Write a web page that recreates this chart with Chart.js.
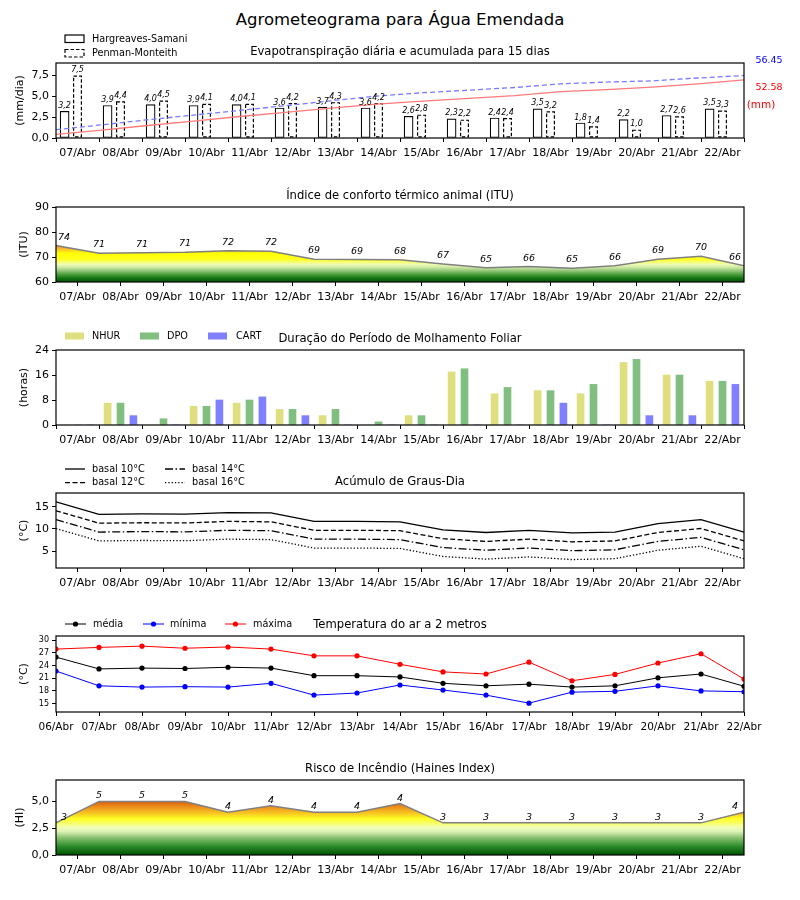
<!DOCTYPE html>
<html>
<head>
<meta charset="utf-8">
<script src="https://cdn.jsdelivr.net/npm/chart.js@4.4.0/dist/chart.umd.min.js"></script>
<style>
  body { margin: 0; background: #fff; width: 800px; height: 900px; position: relative; overflow: hidden; font-family: "DejaVu Sans", sans-serif; }
  #mainTitle { position: absolute; top: 10px; left: 0; width: 800px; text-align: center; font-size: 16.5px; color: #000; }
  canvas { position: absolute; left: 0; }
</style>
</head>
<body>
<div id="mainTitle">Agrometeograma para Água Emendada</div>
<canvas id="etChart"></canvas>
<canvas id="ituChart"></canvas>
<canvas id="molhChart"></canvas>
<canvas id="gdChart"></canvas>
<canvas id="tempChart"></canvas>
<canvas id="hainesChart"></canvas>
<script>
// ---- data ----
const dayLabels = ['07/Abr', '08/Abr', '09/Abr', '10/Abr', '11/Abr', '12/Abr', '13/Abr', '14/Abr',
                   '15/Abr', '16/Abr', '17/Abr', '18/Abr', '19/Abr', '20/Abr', '21/Abr', '22/Abr'];
const tempLabels = ['06/Abr', '07/Abr', '08/Abr', '09/Abr', '10/Abr', '11/Abr', '12/Abr', '13/Abr', '14/Abr',
                    '15/Abr', '16/Abr', '17/Abr', '18/Abr', '19/Abr', '20/Abr', '21/Abr', '22/Abr'];

// Evapotranspiração (mm/dia) e acumulada (mm)
const etHargreaves = [3.2, 3.9, 4.0, 3.9, 4.0, 3.6, 3.7, 3.6, 2.6, 2.3, 2.4, 3.5, 1.8, 2.2, 2.7, 3.5];
const etPenman     = [7.5, 4.4, 4.5, 4.1, 4.1, 4.2, 4.3, 4.2, 2.8, 2.2, 2.4, 3.2, 1.4, 1.0, 2.6, 3.3];
const etHargreavesAcum = [3.2, 7.2, 11.3, 15.3, 19.4, 23.1, 26.9, 30.6, 33.3, 35.7, 38.2, 41.8, 43.7, 46.0, 48.9, 52.58];
const etPenmanAcum     = [7.5, 11.9, 16.5, 20.7, 24.9, 29.2, 33.6, 37.9, 40.9, 43.2, 45.6, 48.9, 50.5, 51.6, 54.2, 56.45];

// ITU
const ituValues = [74.6, 71.5, 71.7, 71.9, 72.5, 72.3, 69.1, 69.0, 68.9, 67.2, 65.7, 66.2, 65.5, 66.5, 69.1, 70.3, 66.5];

// Molhamento foliar (horas)
const nhurHours = [0, 7, 0, 6, 7, 5, 3, 0, 3, 17, 10, 11, 10, 20, 16, 14];
const dpoHours  = [0, 7, 2, 6, 8, 5, 5, 1, 3, 18, 12, 11, 13, 21, 16, 14];
const cartHours = [0, 3, 0, 8, 9, 3, 0, 0, 0, 0, 0, 7, 0, 3, 3, 13];

// Graus-dia (°C)
const grausDia10 = [16.1, 13.3, 13.4, 13.35, 13.7, 13.6, 11.7, 11.7, 11.6, 9.8, 9.2, 9.7, 9.1, 9.3, 11.2, 12.1, 9.3];
const grausDia12 = [14.1, 11.3, 11.4, 11.35, 11.7, 11.6, 9.7, 9.7, 9.6, 7.8, 7.2, 7.7, 7.1, 7.3, 9.2, 10.1, 7.3];
const grausDia14 = [12.1, 9.3, 9.4, 9.35, 9.7, 9.6, 7.7, 7.7, 7.6, 5.8, 5.2, 5.7, 5.1, 5.3, 7.2, 8.1, 5.3];
const grausDia16 = [10.1, 7.3, 7.4, 7.35, 7.7, 7.6, 5.7, 5.7, 5.6, 3.8, 3.2, 3.7, 3.1, 3.3, 5.2, 6.1, 3.3];

// Temperatura do ar (°C)
const tempMedia  = [26.0, 23.2, 23.4, 23.3, 23.6, 23.4, 21.6, 21.6, 21.3, 19.8, 19.2, 19.6, 18.9, 19.2, 21.1, 22.0, 19.1];
const tempMinima = [22.7, 19.2, 18.9, 19.0, 18.9, 19.8, 17.0, 17.5, 19.4, 18.2, 17.0, 15.1, 17.7, 17.9, 19.2, 18.0, 17.8];
const tempMaxima = [27.9, 28.3, 28.6, 28.1, 28.4, 27.9, 26.3, 26.3, 24.3, 22.5, 22.0, 24.8, 20.4, 21.9, 24.6, 26.8, 20.8];

// Haines index
const hainesValues = [3.0, 5.0, 5.0, 5.0, 4.0, 4.6, 4.0, 4.0, 4.8, 3.0, 3.0, 3.0, 3.0, 3.0, 3.0, 3.0, 4.0];

// y tick values
const etTicks = [0, 2.5, 5, 7.5];
const ituTicks = [60, 70, 80, 90];
const molhTicks = [0, 8, 16, 24];
const gdTicks = [5, 10, 15];
const tempTicks = [15, 18, 21, 24, 27, 30];
const hainesTicks = [0, 2.5, 5];

// ---- layout helpers ----
Chart.defaults.font.family = "'DejaVu Sans', sans-serif";
Chart.defaults.color = '#000';

const PAD_TOP = 48;
const AXIS_H = 32;
const AXIS_W = 56;
const RIGHT_W = 56;
const FONT = "'DejaVu Sans', sans-serif";
const LEGEND_FONT = '9.7px ' + FONT;

const dayTicks = dayLabels.map((_, i) => i);
const tempTickPos = tempLabels.map((_, i) => i);
const edgeX = tempLabels.map((_, i) => i - 0.5);   // day boundaries, -0.5 .. 15.5

function fmtComma(v, d) {
    return v.toFixed(d).replace('.', ',');
}

function drawText(c, str, x, y, font, color, align, baseline) {
    c.save();
    c.font = font;
    c.fillStyle = color || '#000';
    c.textAlign = align || 'left';
    c.textBaseline = baseline || 'middle';
    c.fillText(str, x, y);
    c.restore();
}

function placeCanvas(id, plotTop, plotBottom) {
    const cv = document.getElementById(id);
    cv.width = 800;
    cv.height = plotBottom - plotTop + PAD_TOP + AXIS_H;
    cv.style.top = (plotTop - PAD_TOP) + 'px';
    return cv;
}

function xAxis(min, max, ticks, labels, fontSize) {
    return {
        type: 'linear', min: min, max: max, offset: false,
        afterBuildTicks: s => { s.ticks = ticks.map(v => ({ value: v })); },
        afterFit: s => { s.height = AXIS_H; },
        ticks: {
            autoSkip: false, maxRotation: 0, padding: 5,
            font: { size: fontSize },
            callback: (v, i) => labels[i]
        },
        grid: { drawOnChartArea: false, drawTicks: true, tickLength: 4, color: '#000' },
        border: { display: false }
    };
}

function yAxis(min, max, ticks, fmt, title, titlePad, fontSize) {
    return {
        type: 'linear', min: min, max: max, position: 'left',
        afterBuildTicks: s => { s.ticks = ticks.map(v => ({ value: v })); },
        afterFit: s => { s.width = AXIS_W; },
        ticks: { padding: 3, font: { size: fontSize }, callback: fmt },
        grid: { drawOnChartArea: false, drawTicks: true, tickLength: 4, color: '#000' },
        border: { display: false },
        title: { display: true, text: title, font: { size: 11 }, padding: { top: titlePad, bottom: 0 } }
    };
}

// empty right-hand box so the plot keeps its right margin and the title stays centred on the page
const rightSpacer = {
    type: 'linear', position: 'right', min: 0, max: 1,
    afterFit: s => { s.width = RIGHT_W; },
    ticks: { display: false },
    grid: { display: false },
    border: { display: false }
};

function baseOptions(title, x, y) {
    return {
        responsive: false,
        animation: false,
        events: [],
        layout: { padding: 0 },
        plugins: {
            legend: { display: false },
            tooltip: { enabled: false },
            title: {
                display: true, text: title, color: '#000',
                font: { size: 11.6, weight: 'normal' },
                padding: { top: PAD_TOP - 11.6 * 1.2 - 4.3, bottom: 4.3 }
            }
        },
        scales: { x: x, y: y, yR: rightSpacer }
    };
}

// box round the plot area, as matplotlib axes
const frameBox = {
    id: 'frameBox',
    afterDraw(chart) {
        const a = chart.chartArea;
        const c = chart.ctx;
        c.save();
        c.strokeStyle = '#000';
        c.lineWidth = 1.2;
        c.strokeRect(a.left, a.top, a.right - a.left, a.bottom - a.top);
        c.restore();
    }
};

// colour-map fill under a line, stops given in data units
function bandFill(stops) {
    return function(context) {
        const chart = context.chart;
        const a = chart.chartArea;
        if (!a) return 'rgba(0,0,0,0)';
        const ys = chart.scales.y;
        const v0 = stops[0][0], v1 = stops[stops.length - 1][0];
        const g = chart.ctx.createLinearGradient(0, ys.getPixelForValue(v0), 0, ys.getPixelForValue(v1));
        stops.forEach(s => g.addColorStop((s[0] - v0) / (v1 - v0), s[1]));
        return g;
    };
}

function pointLabels(offsetY) {
    return {
        id: 'pointLabels',
        afterDraw(chart) {
            const a = chart.chartArea;
            const meta = chart.getDatasetMeta(0);
            const vals = chart.data.datasets[0].data;
            meta.data.forEach((el, i) => {
                const x = Math.min(Math.max(el.x, a.left + 8), a.right - 9);
                drawText(chart.ctx, String(Math.trunc(vals[i].y)), x, el.y - offsetY,
                    'italic 9.5px ' + FONT, '#000', 'center', 'alphabetic');
            });
        }
    };
}

// ---- 1. Evapotranspiração ----
placeCanvas('etChart', 63, 138);
const etOpts = baseOptions('Evapotranspiração diária e acumulada para 15 dias',
    xAxis(-0.5, 15.5, dayTicks, dayLabels, 11),
    yAxis(0, 9, etTicks, v => fmtComma(v, 1), '(mm/dia)', 13.4, 11));
etOpts.scales.y2 = { type: 'linear', display: false, min: 0, max: 67.74 };

new Chart(document.getElementById('etChart'), {
    type: 'bar',
    data: {
        datasets: [
            {
                label: 'Hargreaves-Samani', order: 1, grouped: false,
                data: etHargreaves.map((v, i) => ({ x: i - 0.3, y: v })),
                backgroundColor: '#fff', borderColor: '#000', borderWidth: 1.2,
                borderSkipped: false, barThickness: 9
            },
            {
                label: 'Penman-Monteith', order: 1, grouped: false,
                data: etPenman.map((v, i) => ({ x: i, y: v })),
                backgroundColor: '#fff', borderWidth: 0, barThickness: 9
            },
            {
                type: 'line', label: 'HS acumulada', order: 0, yAxisID: 'y2',
                data: etHargreavesAcum.map((v, i) => ({ x: -0.5 + i * 16 / 15, y: v })),
                borderColor: '#ff7a7a', borderWidth: 1.3, pointRadius: 0, tension: 0
            },
            {
                type: 'line', label: 'PM acumulada', order: 0, yAxisID: 'y2',
                data: etPenmanAcum.map((v, i) => ({ x: -0.5 + i * 16 / 15, y: v })),
                borderColor: '#7a7aff', borderWidth: 1.3, borderDash: [5, 3], pointRadius: 0, tension: 0
            }
        ]
    },
    options: etOpts,
    plugins: [frameBox, {
        id: 'etExtras',
        afterDatasetDraw(chart, args) {
            if (args.index !== 1) return;
            const c = chart.ctx;
            c.save();
            c.strokeStyle = '#000';
            c.lineWidth = 1.2;
            c.setLineDash([3.5, 2]);
            args.meta.data.forEach(el => {
                c.strokeRect(el.x - el.width / 2 + 0.6, el.y + 0.6, el.width - 1.2, el.base - el.y - 1.2);
            });
            c.restore();
        },
        afterDraw(chart) {
            const c = chart.ctx;
            const a = chart.chartArea;
            [[0, etHargreaves], [1, etPenman]].forEach(([di, vals]) => {
                chart.getDatasetMeta(di).data.forEach((el, i) => {
                    drawText(c, fmtComma(vals[i], 1), el.x, el.y - 1.5, 'italic 8px ' + FONT, '#000', 'center', 'bottom');
                });
            });
            // legend
            const r1 = a.top - 24, r2 = a.top - 9.5;
            c.save();
            c.fillStyle = '#fff';
            c.strokeStyle = '#000';
            c.lineWidth = 1.2;
            c.fillRect(65, r1 - 4, 19, 7.5);
            c.strokeRect(65, r1 - 4, 19, 7.5);
            c.setLineDash([3.5, 2]);
            c.fillRect(65, r2 - 4, 19, 7.5);
            c.strokeRect(65, r2 - 4, 19, 7.5);
            c.restore();
            drawText(c, 'Hargreaves-Samani', 92, r1, LEGEND_FONT);
            drawText(c, 'Penman-Monteith', 92, r2, LEGEND_FONT);
            // accumulated totals
            const last = etPenmanAcum.length - 1;
            drawText(c, etPenmanAcum[last].toFixed(2), 769, a.top - 2, '9.5px ' + FONT, '#0000ff', 'center');
            drawText(c, etHargreavesAcum[last].toFixed(2), 769, a.top + 24.5, '9.5px ' + FONT, '#ff0000', 'center');
            drawText(c, '(mm)', 761, a.top + 42, '10.5px ' + FONT, '#ff0000', 'center');
        }
    }]
});

// ---- 2. ITU ----
placeCanvas('ituChart', 207, 282);
new Chart(document.getElementById('ituChart'), {
    type: 'line',
    data: {
        datasets: [{
            label: 'ITU',
            data: ituValues.map((v, i) => ({ x: edgeX[i], y: v })),
            borderColor: '#808080', borderWidth: 1.5, pointRadius: 0, tension: 0,
            fill: 'start',
            backgroundColor: bandFill([
                [60, '#005200'], [61.5, '#137313'], [63, '#4a9c3a'], [64.5, '#92c67a'],
                [66, '#d2eca6'], [67, '#eefbb2'], [68, '#f6ff72'], [69, '#ffff22'],
                [71.5, '#ffff00'], [72.5, '#f9d922'], [73.5, '#f4b030'], [75, '#ee8a30']
            ])
        }]
    },
    options: baseOptions('Índice de conforto térmico animal (ITU)',
        xAxis(-0.5, 15.5, dayTicks, dayLabels, 11),
        yAxis(60, 90, ituTicks, v => String(v), '(ITU)', 17.4, 11)),
    plugins: [frameBox, pointLabels(6)]
});

// ---- 3. Molhamento foliar ----
placeCanvas('molhChart', 350, 425);
const molhSeries = [
    ['NHUR', nhurHours, -0.3, '#dfdf80'],
    ['DPO', dpoHours, 0, '#80bf80'],
    ['CART', cartHours, 0.3, '#8080ff']
];
new Chart(document.getElementById('molhChart'), {
    type: 'bar',
    data: {
        datasets: molhSeries.map(([name, vals, off, color]) => ({
            label: name, grouped: false,
            data: vals.map((v, i) => ({ x: i + off, y: v })),
            backgroundColor: color, borderWidth: 0, barThickness: 7
        }))
    },
    options: baseOptions('Duração do Período de Molhamento Foliar',
        xAxis(-0.5, 15.5, dayTicks, dayLabels, 11),
        yAxis(0, 24, molhTicks, v => String(v), '(horas)', 17.4, 11)),
    plugins: [frameBox, {
        id: 'molhLegend',
        afterDraw(chart) {
            const c = chart.ctx;
            const y = chart.chartArea.top - 14;
            [[65, 92], [140, 167], [208, 236]].forEach(([px, tx], k) => {
                c.save();
                c.fillStyle = molhSeries[k][3];
                c.fillRect(px, y - 3.5, 19, 7);
                c.restore();
                drawText(c, molhSeries[k][0], tx, y, LEGEND_FONT);
            });
        }
    }]
});

// ---- 4. Graus-dia ----
placeCanvas('gdChart', 493, 568);
const gdSeries = [
    ['basal 10°C', grausDia10, []],
    ['basal 12°C', grausDia12, [5, 2.5]],
    ['basal 14°C', grausDia14, [8, 2.5, 1.5, 2.5]],
    ['basal 16°C', grausDia16, [1.3, 2]]
];
new Chart(document.getElementById('gdChart'), {
    type: 'line',
    data: {
        datasets: gdSeries.map(([name, vals, dash]) => ({
            label: name,
            data: vals.map((v, i) => ({ x: edgeX[i], y: v })),
            borderColor: '#000', borderWidth: 1.3, borderDash: dash, pointRadius: 0, tension: 0
        }))
    },
    options: baseOptions('Acúmulo de Graus-Dia',
        xAxis(-0.5, 15.5, dayTicks, dayLabels, 11),
        yAxis(1.2, 18.1, gdTicks, v => String(v), '(°C)', 17.4, 11)),
    plugins: [frameBox, {
        id: 'gdLegend',
        afterDraw(chart) {
            const c = chart.ctx;
            const t = chart.chartArea.top;
            const slots = [[65, t - 24], [65, t - 10.3], [165, t - 24], [165, t - 10.3]];
            gdSeries.forEach(([name, , dash], k) => {
                const [lx, ly] = slots[k];
                c.save();
                c.strokeStyle = '#000';
                c.lineWidth = 1.3;
                c.setLineDash(dash);
                c.beginPath();
                c.moveTo(lx, ly);
                c.lineTo(lx + 20, ly);
                c.stroke();
                c.restore();
                drawText(c, name, lx + 27, ly, LEGEND_FONT);
            });
        }
    }]
});

// ---- 5. Temperatura ----
placeCanvas('tempChart', 636, 712);
const tempSeries = [
    ['média', tempMedia, '#000000'],
    ['mínima', tempMinima, '#0000ff'],
    ['máxima', tempMaxima, '#ff0000']
];
new Chart(document.getElementById('tempChart'), {
    type: 'line',
    data: {
        datasets: tempSeries.map(([name, vals, color]) => ({
            label: name,
            data: vals.map((v, i) => ({ x: tempTickPos[i], y: v })),
            borderColor: color, borderWidth: 1, tension: 0,
            pointRadius: 2.6, pointBorderWidth: 0, pointBackgroundColor: color
        }))
    },
    options: baseOptions('Temperatura do ar a 2 metros',
        xAxis(0, 16, tempTickPos, tempLabels, 10.5),
        yAxis(13, 31, tempTicks, v => String(v), '(°C)', 17.8, 8)),
    plugins: [frameBox, {
        id: 'tempLegend',
        afterDraw(chart) {
            const c = chart.ctx;
            const y = chart.chartArea.top - 12;
            [[65, 93], [143, 170], [225, 253]].forEach(([lx, tx], k) => {
                const color = tempSeries[k][2];
                c.save();
                c.strokeStyle = color;
                c.fillStyle = color;
                c.lineWidth = 1;
                c.beginPath();
                c.moveTo(lx, y);
                c.lineTo(lx + 21, y);
                c.stroke();
                c.beginPath();
                c.arc(lx + 10.5, y, 2.6, 0, Math.PI * 2);
                c.fill();
                c.restore();
                drawText(c, tempSeries[k][0], tx, y, LEGEND_FONT);
            });
        }
    }]
});

// ---- 6. Haines ----
placeCanvas('hainesChart', 780, 855);
new Chart(document.getElementById('hainesChart'), {
    type: 'line',
    data: {
        datasets: [{
            label: 'Haines',
            data: hainesValues.map((v, i) => ({ x: edgeX[i], y: v })),
            borderColor: '#808080', borderWidth: 1.5, pointRadius: 0, tension: 0,
            fill: 'start',
            backgroundColor: bandFill([
                [0, '#005200'], [0.8, '#2a8a2a'], [1.6, '#86c06e'], [2.2, '#def3b8'],
                [2.6, '#f2ffb4'], [3.0, '#f9ff62'], [3.4, '#ffff22'], [3.8, '#f9d022'],
                [4.3, '#f0a020'], [4.8, '#e27212'], [5.0, '#d86010']
            ])
        }]
    },
    options: baseOptions('Risco de Incêndio (Haines Index)',
        xAxis(-0.5, 15.5, dayTicks, dayLabels, 11),
        yAxis(0, 7, hainesTicks, v => fmtComma(v, 1), '(HI)', 13.4, 11)),
    plugins: [frameBox, pointLabels(3)]
});
</script>
</body>
</html>
